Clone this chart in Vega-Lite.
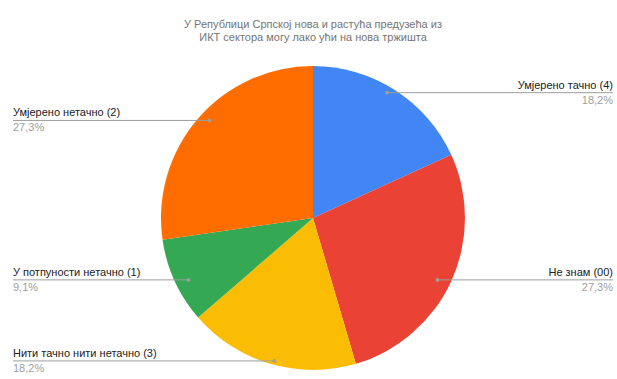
{
  "$schema": "https://vega.github.io/schema/vega-lite/v6.json",
  "autosize": "none",
  "padding": {"left": 9, "top": 57, "right": 0, "bottom": 0},
  "width": 608,
  "height": 322,
  "background": "white",
  "config": {"view": {"stroke": null}, "font": "Liberation Sans"},
  "title": {
    "text": ["У Републици Српској нова и растућа предузећа из", "ИКТ сектора могу лако ући на нова тржишта"],
    "anchor": "middle",
    "font": "Liberation Sans",
    "fontSize": 11,
    "fontWeight": "normal",
    "color": "#757575",
    "lineHeight": 13.5,
    "offset": 14
  },
  "data": {
    "values": [
      {"answer": "Умјерено тачно (4)", "count": 2, "percent": "18,2%", "order": 1},
      {"answer": "Не знам (00)", "count": 3, "percent": "27,3%", "order": 2},
      {"answer": "Нити тачно нити нетачно (3)", "count": 2, "percent": "18,2%", "order": 3},
      {"answer": "У потпуности нетачно (1)", "count": 1, "percent": "9,1%", "order": 4},
      {"answer": "Умјерено нетачно (2)", "count": 3, "percent": "27,3%", "order": 5}
    ]
  },
  "transform": [
    {"joinaggregate": [{"op": "sum", "field": "count", "as": "total"}]},
    {"window": [{"op": "sum", "field": "count", "as": "cum"}], "sort": [{"field": "order"}], "frame": [null, 0]},
    {"calculate": "2*PI*(datum.cum - datum.count/2)/datum.total", "as": "mid"},
    {"calculate": "0.9*sin(datum.mid)", "as": "dotx"},
    {"calculate": "0.98*cos(datum.mid)", "as": "doty"},
    {"calculate": "datum.dotx >= 0 ? 'right' : 'left'", "as": "side"},
    {"calculate": "datum.dotx >= 0 ? 1.9737 : -1.9737", "as": "edgex"}
  ],
  "layer": [
    {
      "mark": {"type": "arc", "radius": 152},
      "encoding": {
        "theta": {"field": "count", "type": "quantitative", "stack": true},
        "order": {"field": "order", "type": "quantitative"},
        "color": {
          "field": "answer",
          "type": "nominal",
          "scale": {
            "domain": ["Умјерено тачно (4)", "Не знам (00)", "Нити тачно нити нетачно (3)", "У потпуности нетачно (1)", "Умјерено нетачно (2)"],
            "range": ["#4285F4", "#EA4335", "#FBBC04", "#34A853", "#FF6D01"]
          },
          "legend": null
        }
      }
    },
    {
      "mark": {"type": "rule", "color": "#9e9e9e", "strokeWidth": 1},
      "encoding": {
        "x": {"field": "dotx", "type": "quantitative", "scale": {"domain": [-2, 2], "nice": false, "zero": false}, "axis": null},
        "x2": {"field": "edgex"},
        "y": {"field": "doty", "type": "quantitative", "scale": {"domain": [-1.0592, 1.0592], "nice": false, "zero": false}, "axis": null}
      }
    },
    {
      "mark": {"type": "point", "filled": true, "color": "#9e9e9e", "size": 14, "opacity": 1},
      "encoding": {
        "x": {"field": "dotx", "type": "quantitative"},
        "y": {"field": "doty", "type": "quantitative"}
      }
    },
    {
      "transform": [{"filter": "datum.side == 'left'"}],
      "mark": {"type": "text", "align": "left", "baseline": "bottom", "dy": -2, "fontSize": 11, "color": "#212121"},
      "encoding": {
        "x": {"field": "edgex", "type": "quantitative"},
        "y": {"field": "doty", "type": "quantitative"},
        "text": {"field": "answer"}
      }
    },
    {
      "transform": [{"filter": "datum.side == 'left'"}],
      "mark": {"type": "text", "align": "left", "baseline": "top", "dy": 2, "fontSize": 11, "color": "#9e9e9e"},
      "encoding": {
        "x": {"field": "edgex", "type": "quantitative"},
        "y": {"field": "doty", "type": "quantitative"},
        "text": {"field": "percent"}
      }
    },
    {
      "transform": [{"filter": "datum.side == 'right'"}],
      "mark": {"type": "text", "align": "right", "baseline": "bottom", "dy": -2, "fontSize": 11, "color": "#212121"},
      "encoding": {
        "x": {"field": "edgex", "type": "quantitative"},
        "y": {"field": "doty", "type": "quantitative"},
        "text": {"field": "answer"}
      }
    },
    {
      "transform": [{"filter": "datum.side == 'right'"}],
      "mark": {"type": "text", "align": "right", "baseline": "top", "dy": 2, "fontSize": 11, "color": "#9e9e9e"},
      "encoding": {
        "x": {"field": "edgex", "type": "quantitative"},
        "y": {"field": "doty", "type": "quantitative"},
        "text": {"field": "percent"}
      }
    }
  ]
}
